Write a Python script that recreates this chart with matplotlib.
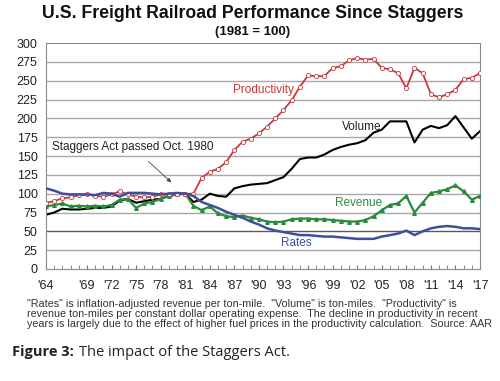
import numpy as np
import matplotlib
matplotlib.use("Agg")
import matplotlib.pyplot as plt

plt.rcParams['font.family'] = ['Liberation Sans', 'DejaVu Sans']

years = list(range(1964, 2018))

productivity = [88, 90, 94, 95, 98, 99, 97, 96, 99, 103, 99, 96, 95, 96, 99, 99, 99, 100,
                100, 121, 129, 133, 142, 158, 169, 173, 180, 189, 200, 211, 224, 242, 257, 256,
                256, 267, 269, 277, 280, 278, 279, 267, 265, 260, 240, 267, 260, 232, 228, 232,
                238, 252, 254, 260]
volume = [72, 75, 80, 79, 79, 80, 81, 81, 83, 91, 93, 88, 90, 92, 93, 97, 99, 100,
          89, 92, 100, 97, 96, 107, 110, 112, 113, 114, 118, 122, 133, 146, 148, 148,
          152, 158, 162, 165, 167, 171, 181, 185, 196, 196, 196, 168, 185, 190, 187, 191,
          203, 188, 173, 183]
revenue = [83, 85, 87, 83, 84, 83, 84, 83, 85, 92, 93, 81, 87, 89, 93, 97, 99, 100,
           84, 78, 83, 74, 70, 69, 71, 68, 66, 63, 62, 63, 66, 67, 67, 66,
           66, 65, 64, 63, 63, 65, 70, 78, 85, 87, 97, 75, 88, 101, 103, 106,
           111, 103, 92, 97]
rates = [107, 104, 100, 99, 99, 99, 98, 101, 100, 96, 101, 101, 101, 100, 99, 100, 101, 100,
         97, 89, 85, 81, 76, 72, 68, 63, 59, 54, 51, 49, 47, 45, 45, 44,
         43, 43, 42, 41, 40, 40, 40, 43, 45, 47, 51, 45, 50, 54, 56, 57,
         56, 54, 54, 53]

tick_years = [1964, 1969, 1972, 1975, 1978, 1981, 1984, 1987, 1990, 1993, 1996, 1999,
              2002, 2005, 2008, 2011, 2014, 2017]
tick_labels = ["'%02d" % (y % 100) for y in tick_years]

red = '#c8383c'
green = '#2b8a3e'
blue = '#3f4f9c'

fig = plt.figure(figsize=(5, 3.81), dpi=100)
ax = fig.add_axes([0.092, 0.294, 0.868, 0.593])

for v in range(25, 300, 25):
    ax.axhline(v, color='#5a5a5a' if v == 50 else '#a8a8a8', lw=1.0, zorder=0)

ax.plot(years, volume, color='black', lw=1.5, zorder=2)
ax.plot(years, revenue, color=green, lw=1.6, marker='^', ms=2.6, zorder=3)
ax.plot(years, productivity, color=red, lw=1.3, marker='o', ms=3.0,
        markerfacecolor='white', markeredgewidth=0.6, zorder=4)
ax.plot(years, rates, color=blue, lw=1.8, zorder=5)

ax.set_xlim(1964, 2017)
ax.set_ylim(0, 300)
ax.set_yticks(range(0, 301, 25))
ax.set_xticks(tick_years)
ax.set_xticklabels(tick_labels)
ax.set_xticks(years, minor=True)
ax.tick_params(axis='x', which='both', direction='in', length=3, color='#777777',
               labelsize=9, pad=8, labelcolor='#222222')
ax.tick_params(axis='y', length=0, labelsize=9, pad=6, labelcolor='#222222')
for s in ax.spines.values():
    s.set_color('#8a8a8a')

ax.text(1990.5, 237, 'Productivity', color=red, fontsize=8.5, ha='center', va='center')
ax.text(2002.5, 188, 'Volume', color='#222222', fontsize=8.5, ha='center', va='center')
ax.text(2002.2, 88, 'Revenue', color=green, fontsize=8.5, ha='center', va='center')
ax.text(1994.6, 35, 'Rates', color=blue, fontsize=8.5, ha='center', va='center')
ax.annotate('Staggers Act passed Oct. 1980', xy=(1979.3, 115), xytext=(1974.6, 162),
            fontsize=8.5, ha='center', va='center', color='#222222',
            arrowprops=dict(arrowstyle='-|>', color='#444444', lw=0.6,
                            mutation_scale=6, shrinkA=6, shrinkB=0))

fig.text(0.506, 0.965, 'U.S. Freight Railroad Performance Since Staggers', fontsize=12.7,
         fontweight='bold', ha='center', va='center', color='#111111')
fig.text(0.506, 0.915, '(1981 = 100)', fontsize=9.5, fontweight='bold',
         ha='center', va='center', color='#111111')

notes = ['"Rates" is inflation-adjusted revenue per ton-mile.  "Volume" is ton-miles.  "Productivity" is',
         'revenue ton-miles per constant dollar operating expense.  The decline in productivity in recent',
         'years is largely due to the effect of higher fuel prices in the productivity calculation.  Source: AAR']
for i, line in enumerate(notes):
    fig.text(0.054, 1 - (304 + i * 10) / 381, line, fontsize=7.75, ha='left', va='center',
             color='#333333')

fig.text(0.024, 1 - 352 / 381, 'Figure 3:', fontsize=10.5, fontweight='bold',
         family=['Open Sans', 'DejaVu Sans'], ha='left', va='center', color='#222222')
fig.text(0.158, 1 - 352 / 381, 'The impact of the Staggers Act.', fontsize=10.5,
         family=['Open Sans', 'DejaVu Sans'], ha='left', va='center', color='#222222')

fig.savefig('out.png', dpi=100)
